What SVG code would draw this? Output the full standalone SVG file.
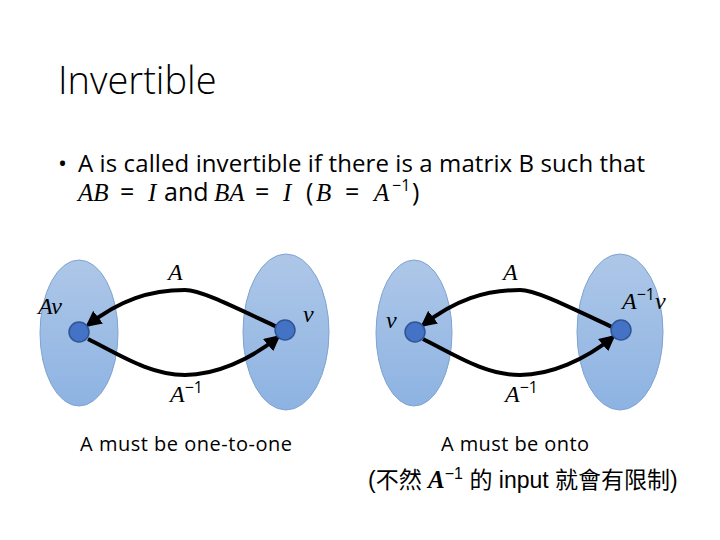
<svg xmlns="http://www.w3.org/2000/svg" width="720" height="540" viewBox="0 0 720 540">
<style>
.t{font-family:"Open Sans","Liberation Sans",sans-serif;fill:#000}
.m{font-family:"Liberation Serif","DejaVu Serif",serif;font-style:italic;fill:#000}
.e{fill:url(#g);stroke:#7fa3d0;stroke-width:1}
.d{fill:#4472c4;stroke:#2f5597;stroke-width:1.5}
.c{fill:none;stroke:#000;stroke-width:4;marker-end:url(#ar)}
</style>
<defs>
<linearGradient id="g" x1="0" y1="0" x2="0" y2="1"><stop offset="0" stop-color="#aec7e8"/><stop offset="1" stop-color="#8db3e2"/></linearGradient>
<marker id="ar" viewBox="0 0 10 10" refX="8" refY="5" markerWidth="4" markerHeight="4" orient="auto"><path d="M0,0L10,5L0,10z" fill="#000"/></marker>
</defs>
<rect width="720" height="540" fill="#fff"/>
<text class="t" x="58" y="94" font-size="38" style="font-family:'Open Sans','Liberation Sans',sans-serif;font-weight:300">Invertible</text>
<text class="t" x="58" y="172" font-size="24">•</text>
<text class="t" x="78" y="172" font-size="24" textLength="567">A is called invertible  if there is a matrix B such that</text>
<text y="201" font-size="25"><tspan class="m" x="78">AB</tspan><tspan class="t" x="120">=</tspan><tspan class="m" x="148">I</tspan><tspan class="t" x="164">and</tspan><tspan class="m" x="214">BA</tspan><tspan class="t" x="255">=</tspan><tspan class="m" x="283">I</tspan><tspan class="t" x="306">(</tspan><tspan class="m" x="316">B</tspan><tspan class="t" x="345">=</tspan><tspan class="m" x="374">A</tspan><tspan class="t" font-size="16" x="392" dy="-10">−1</tspan><tspan class="t" x="412" dy="10">)</tspan></text>
<g id="left-set-1"><ellipse class="e" cx="79" cy="333" rx="39" ry="73"/></g>
<g id="right-set-1"><ellipse class="e" cx="286" cy="332" rx="43" ry="78"/></g>
<g id="left-set-2"><ellipse class="e" cx="414" cy="333" rx="38" ry="73"/></g>
<g id="right-set-2"><ellipse class="e" cx="620" cy="332" rx="43" ry="78"/></g>
<g id="connectors">
<path class="c" d="M277,327 C230,305 200,290 185,290 C150,290 120,300 88,325"/>
<path class="c" d="M88,339 C120,355 150,375 185,375 C215,375 250,360 278,337"/>
<path class="c" d="M612,327 C565,305 535,290 520,290 C485,290 455,300 423,325"/>
<path class="c" d="M423,339 C455,355 485,375 520,375 C550,375 585,360 613,337"/>
</g>
<g id="Av"><circle class="d" cx="79" cy="332" r="10"/><text class="m" x="38" y="314" font-size="24">Av</text></g>
<g id="v1"><circle class="d" cx="285" cy="330" r="10"/><text class="m" x="303" y="322" font-size="24">v</text></g>
<g id="v2"><circle class="d" cx="415" cy="332" r="10"/><text class="m" x="386" y="328" font-size="24">v</text></g>
<g id="Ainvv"><circle class="d" cx="621" cy="330" r="10"/><text x="622" y="309" font-size="24"><tspan class="m">A</tspan><tspan class="t" font-size="16" dy="-9">−1</tspan><tspan class="m" dy="9">v</tspan></text></g>
<text class="m" x="168" y="280" font-size="24">A</text>
<text x="170" y="402" font-size="24"><tspan class="m">A</tspan><tspan class="t" font-size="16" dy="-9">−1</tspan></text>
<text class="m" x="503" y="280" font-size="24">A</text>
<text x="505" y="402" font-size="24"><tspan class="m">A</tspan><tspan class="t" font-size="16" dy="-9">−1</tspan></text>
<text class="t" x="186" y="451" font-size="20" text-anchor="middle" textLength="212">A must be one-to-one</text>
<text class="t" x="515" y="451" font-size="20" text-anchor="middle" textLength="148">A must be onto</text>
<text x="368" y="488" font-size="23" style="font-family:'Liberation Sans','Noto Sans CJK TC',sans-serif"><tspan>(不然 </tspan><tspan class="m" font-size="25" font-weight="bold">A</tspan><tspan font-size="16" dy="-9">−1</tspan><tspan dy="9"> 的 input 就會有限制)</tspan></text>
</svg>
